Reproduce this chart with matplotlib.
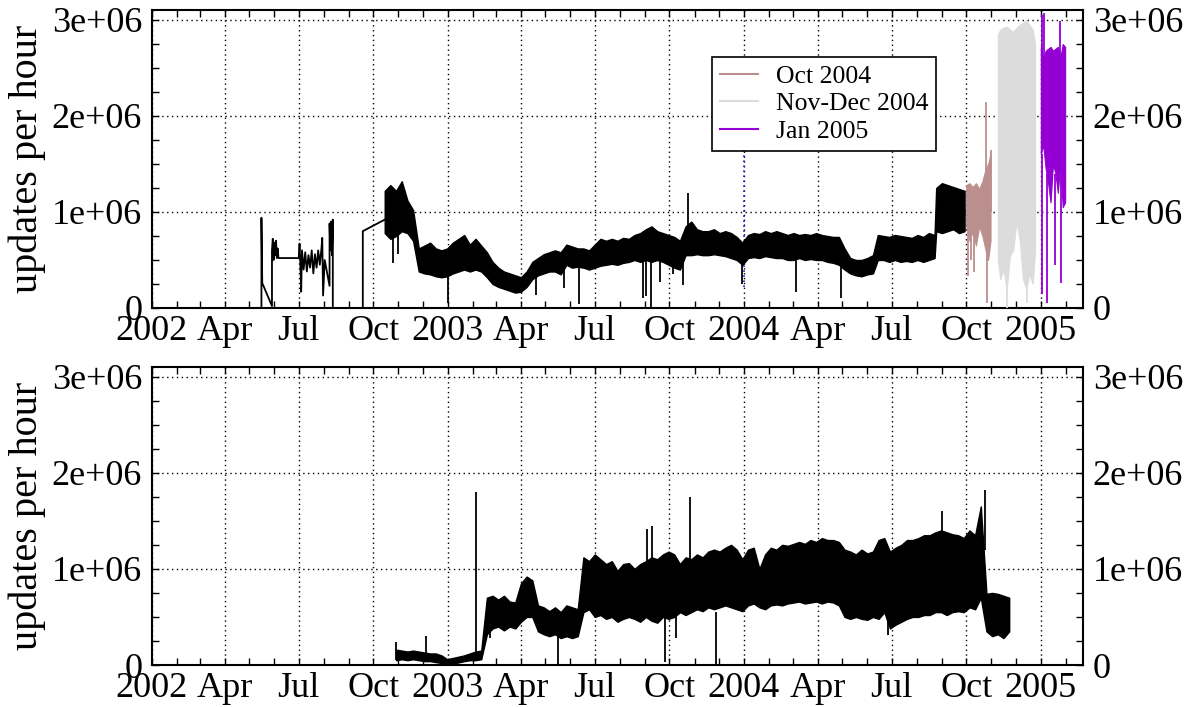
import matplotlib
matplotlib.use("Agg")
import matplotlib.pyplot as plt
import matplotlib.dates as mdates
from matplotlib.lines import Line2D
from matplotlib.ticker import MultipleLocator, FuncFormatter
import numpy as np
import pandas as pd

plt.rcParams["font.family"] = ["Liberation Serif", "DejaVu Serif"]

M = 1e6  # all values below are in millions of updates per hour

# ---------------- top panel ----------------
# sparse 2002 data, drawn as a plain line
early_dates = ["2002-05-16", "2002-05-16", "2002-05-17", "2002-05-29", "2002-05-29",
               "2002-05-30", "2002-05-31", "2002-06-01", "2002-06-02", "2002-06-03",
               "2002-06-04", "2002-06-05", "2002-06-06", "2002-07-01", "2002-07-02",
               "2002-07-03", "2002-07-04", "2002-07-05", "2002-07-07", "2002-07-09",
               "2002-07-11", "2002-07-13", "2002-07-15", "2002-07-17", "2002-07-19",
               "2002-07-21", "2002-07-23", "2002-07-25", "2002-07-27", "2002-07-29",
               "2002-07-30", "2002-07-31", "2002-08-02", "2002-08-08", "2002-08-08",
               "2002-08-09", "2002-08-10", "2002-08-11", "2002-08-12", "2002-08-12",
               "2002-09-18", "2002-09-18", "2002-10-15"]
early_vals = [0.0, 0.94, 0.26, 0.02, 0.60, 0.72, 0.50, 0.68, 0.55, 0.70,
              0.52, 0.62, 0.52, 0.52, 0.67, 0.45, 0.17, 0.60, 0.40, 0.58,
              0.38, 0.55, 0.42, 0.60, 0.36, 0.56, 0.42, 0.60, 0.45, 0.62,
              0.73, 0.13, 0.50, 0.23, 0.88, 0.60, 0.90, 0.55, 0.92, 0.0,
              0.0, 0.80, 0.92]

# weekly low / high envelope of the hourly series
top_seg1_start = "2002-10-15"
top_seg1_lo = [0.78, 0.72, 0.75, 0.80, 0.78, 0.70]
top_seg1_hi = [1.22, 1.28, 1.22, 1.32, 1.12, 1.02]

top_seg2_start = "2002-11-26"
top_seg2_lo = [0.38, 0.36, 0.35, 0.33, 0.32, 0.33,
               0.36, 0.38, 0.40, 0.38, 0.40, 0.38, 0.32,
               0.25, 0.22, 0.20, 0.18, 0.16, 0.17, 0.22,
               0.30, 0.34, 0.36, 0.38, 0.38, 0.35,
               0.45, 0.42, 0.43, 0.42, 0.40,
               0.42, 0.44, 0.45, 0.46, 0.45, 0.47, 0.48, 0.50, 0.48, 0.50, 0.48,
               0.50, 0.48, 0.45, 0.42, 0.40,
               0.55, 0.55, 0.56, 0.55, 0.55, 0.56, 0.55, 0.54, 0.52, 0.50, 0.45,
               0.52, 0.53, 0.52, 0.54, 0.53, 0.52, 0.52, 0.50, 0.50, 0.52, 0.50,
               0.51, 0.50, 0.50, 0.48, 0.47, 0.45,
               0.40, 0.36, 0.34, 0.33, 0.35, 0.36]
top_seg2_hi = [0.62, 0.65, 0.68, 0.62, 0.60, 0.62,
               0.68, 0.72, 0.76, 0.66, 0.72, 0.65, 0.58,
               0.48, 0.42, 0.38, 0.36, 0.34, 0.32, 0.38,
               0.48, 0.52, 0.56, 0.58, 0.60, 0.58,
               0.66, 0.64, 0.62, 0.62, 0.60,
               0.66, 0.72, 0.70, 0.72, 0.70, 0.73, 0.72, 0.76, 0.78, 0.82, 0.85,
               0.80, 0.78, 0.76, 0.74, 0.70,
               0.85, 0.90, 0.82, 0.80, 0.80, 0.82, 0.78, 0.80, 0.78, 0.74, 0.68,
               0.76, 0.78, 0.77, 0.80, 0.78, 0.80, 0.78, 0.76, 0.78, 0.76, 0.77,
               0.76, 0.78, 0.76, 0.75, 0.74, 0.74,
               0.62, 0.52, 0.50, 0.50, 0.52, 0.55]

top_seg3_start = "2004-06-14"
top_seg3_lo = [0.50, 0.50, 0.48, 0.50, 0.48, 0.49, 0.48, 0.50, 0.48, 0.50, 0.52]
top_seg3_hi = [0.76, 0.75, 0.74, 0.76, 0.75, 0.74, 0.73, 0.76, 0.74, 0.78, 0.76]

top_seg4_start = "2004-08-25"
top_seg4_lo = [0.80, 0.78, 0.80, 0.82, 0.78, 0.80]
top_seg4_hi = [1.25, 1.30, 1.28, 1.26, 1.24, 1.22]

top_spike_dates = ["2002-10-25", "2002-11-01", "2003-01-01", "2003-04-19", "2003-05-24",
                   "2003-06-11", "2003-08-30", "2003-09-02", "2003-09-08", "2003-09-19",
                   "2003-10-05", "2003-10-18", "2003-10-24", "2003-12-30", "2004-03-05",
                   "2004-04-30"]
top_spike_lo = [0.47, 0.56, 0.05, 0.13, 0.21, 0.04, 0.10, 0.12, 0.00, 0.27,
                0.35, 0.24, 0.70, 0.25, 0.17, 0.10]
top_spike_hi = [0.90, 0.90, 0.45, 0.40, 0.45, 0.50, 0.50, 0.50, 0.50, 0.55,
                0.55, 0.50, 1.20, 0.55, 0.55, 0.50]

oct_dates = ["2004-10-01", "2004-10-05", "2004-10-09", "2004-10-13", "2004-10-17",
             "2004-10-21", "2004-10-25", "2004-10-28", "2004-10-31"]
oct_lo = [0.85, 0.70, 0.80, 0.65, 0.85, 0.75, 0.60, 0.50, 0.70]
oct_hi = [1.28, 1.30, 1.26, 1.30, 1.24, 1.32, 1.45, 1.50, 1.60]
oct_spike_dates = ["2004-10-03", "2004-10-07", "2004-10-11", "2004-10-25", "2004-10-27", "2004-10-31"]
oct_spike_lo = [0.33, 0.50, 0.37, 1.20, 0.05, 1.00]
oct_spike_hi = [1.00, 0.90, 1.00, 2.15, 0.90, 1.65]

nd_dates = ["2004-11-09", "2004-11-12", "2004-11-16", "2004-11-20", "2004-11-24",
            "2004-11-28", "2004-12-02", "2004-12-06", "2004-12-10", "2004-12-14",
            "2004-12-18", "2004-12-22", "2004-12-25"]
nd_lo = [0.50, 0.30, 0.40, 0.20, 0.55, 0.60, 0.90, 0.70, 0.30, 0.20, 0.35, 0.25, 0.60]
nd_hi = [2.85, 2.90, 2.92, 2.93, 2.90, 2.88, 2.92, 2.95, 2.97, 3.00, 2.95, 2.90, 2.75]
nd_spike_dates = ["2004-11-20", "2004-12-15"]
nd_spike_lo = [0.0, 0.05]
nd_spike_hi = [1.0, 1.0]

jan_dates = ["2005-01-01", "2005-01-04", "2005-01-07", "2005-01-10", "2005-01-13",
             "2005-01-16", "2005-01-19", "2005-01-22", "2005-01-25", "2005-01-28",
             "2005-01-31"]
jan_lo = [1.60, 1.70, 1.45, 1.30, 1.10, 1.50, 1.40, 1.20, 1.50, 1.05, 1.10]
jan_hi = [2.72, 2.60, 2.68, 2.70, 2.72, 2.68, 2.70, 2.72, 2.60, 2.75, 2.72]
jan_spike_dates = ["2005-01-02", "2005-01-03", "2005-01-05", "2005-01-09", "2005-01-18",
                   "2005-01-25", "2005-01-26"]
jan_spike_lo = [0.15, 2.00, 2.00, 0.05, 0.45, 2.50, 0.26]
jan_spike_hi = [1.60, 3.05, 3.07, 1.40, 1.40, 2.99, 1.40]

marker_date = "2004-01-01"
marker_lo, marker_hi = 0.22, 1.70

# ---------------- bottom panel ----------------
bot_seg1_start = "2002-10-29"
bot_seg1_lo = [0.05, 0.06, 0.05, 0.06, 0.05, 0.04, 0.04, 0.03, 0.02, 0.00]
bot_seg1_hi = [0.16, 0.15, 0.14, 0.15, 0.14, 0.13, 0.12, 0.12, 0.10, 0.06]

bot_seg2_start = "2003-01-21"
bot_seg2_lo = [0.04, 0.05, 0.05, 0.06]
bot_seg2_hi = [0.10, 0.12, 0.14, 0.15]

bot_seg3_start = "2003-02-18"
bot_seg3_lo = [0.32, 0.38, 0.40, 0.36, 0.40, 0.38,
               0.45, 0.50, 0.50,
               0.35, 0.32, 0.30, 0.32, 0.28, 0.30, 0.28, 0.30,
               0.55, 0.58, 0.50, 0.52, 0.48, 0.50, 0.45, 0.48, 0.50,
               0.48, 0.45, 0.50, 0.46, 0.44, 0.50, 0.48,
               0.50, 0.55, 0.52, 0.55, 0.58, 0.56, 0.60, 0.58, 0.60, 0.62, 0.60, 0.58, 0.56,
               0.62, 0.64, 0.60, 0.58, 0.62, 0.63, 0.62, 0.64, 0.65, 0.66, 0.64, 0.65,
               0.66, 0.64, 0.66, 0.65,
               0.62, 0.50, 0.48, 0.50, 0.48, 0.47, 0.50, 0.48, 0.55,
               0.38, 0.42, 0.45, 0.48, 0.50, 0.50, 0.52, 0.52, 0.55, 0.55, 0.52, 0.55,
               0.56, 0.55,
               0.60, 0.58, 0.70]
bot_seg3_hi = [0.70, 0.72, 0.68, 0.72, 0.66, 0.65,
               0.85, 0.92, 0.88,
               0.62, 0.60, 0.56, 0.60, 0.55, 0.62, 0.60, 0.58,
               1.12, 1.08, 1.15, 1.10, 1.05, 1.08, 0.98, 1.05, 1.06,
               1.00, 1.05, 1.08, 1.12, 1.10, 1.15, 1.18,
               1.15, 1.05, 1.12, 1.10, 1.15, 1.12, 1.18, 1.20, 1.18, 1.22, 1.25, 1.20, 1.10,
               1.20, 1.22, 1.00, 1.15, 1.22, 1.20, 1.25, 1.24, 1.26, 1.28, 1.26, 1.30,
               1.28, 1.32, 1.30, 1.30,
               1.28, 1.20, 1.18, 1.15, 1.20, 1.16, 1.18, 1.30, 1.32,
               1.18, 1.22, 1.25, 1.30, 1.30, 1.32, 1.35, 1.35, 1.38, 1.40, 1.38, 1.36,
               1.35, 1.32,
               1.40, 1.35, 1.65]

bot_seg4_start = "2004-10-26"
bot_seg4_lo = [0.35, 0.30, 0.32, 0.28, 0.35]
bot_seg4_hi = [0.74, 0.75, 0.74, 0.72, 0.70]

bot_spike_dates = ["2002-10-29", "2002-12-05", "2003-02-04", "2003-02-22", "2003-05-17",
                   "2003-09-03", "2003-09-09", "2003-09-26", "2003-10-09", "2003-10-27",
                   "2003-11-28", "2004-06-26", "2004-09-01", "2004-10-24"]
bot_spike_lo = [0.05, 0.10, 0.10, 0.28, 0.00, 0.90, 0.90, 0.03, 0.28, 0.90,
                0.00, 0.31, 1.00, 1.20]
bot_spike_hi = [0.24, 0.30, 1.80, 0.50, 0.35, 1.42, 1.45, 0.50, 0.55, 1.75,
                0.55, 0.60, 1.60, 1.82]


def weekly_band(segments):
    dates = None
    lo, hi = [], []
    for start, seg_lo, seg_hi in segments:
        d = pd.date_range(start, periods=len(seg_lo), freq="7D")
        dates = d if dates is None else dates.append(d)
        lo += seg_lo
        hi += seg_hi
    return dates, np.array(lo) * M, np.array(hi) * M


def draw_band(ax, dates, lo, hi, color):
    ax.fill_between(pd.to_datetime(dates), np.array(lo) * M, np.array(hi) * M,
                    color=color, lw=0.8, zorder=3)


def draw_spikes(ax, dates, lo, hi, color):
    ax.vlines(pd.to_datetime(dates), np.array(lo) * M, np.array(hi) * M,
              color=color, lw=1.3, zorder=3)


def fmt_y(v, pos):
    return "0" if v == 0 else f"{v / M:.0f}e+06"


def fmt_x(v, pos):
    d = mdates.num2date(v)
    return str(d.year) if d.month == 1 else d.strftime("%b")


def style_axes(ax):
    ax.set_xlim(pd.Timestamp("2002-01-01"), pd.Timestamp("2005-02-22"))
    ax.set_ylim(0, 3.1 * M)
    ax.xaxis.set_major_locator(mdates.MonthLocator(bymonth=[1, 4, 7, 10]))
    ax.xaxis.set_minor_locator(mdates.MonthLocator())
    ax.xaxis.set_major_formatter(FuncFormatter(fmt_x))
    ax.yaxis.set_major_locator(MultipleLocator(1 * M))
    ax.yaxis.set_minor_locator(MultipleLocator(0.25 * M))
    ax.yaxis.set_major_formatter(FuncFormatter(fmt_y))
    ax.tick_params(which="both", direction="in", top=True, right=True,
                   labelright=True, length=5, width=1.0, labelsize=26)
    ax.tick_params(axis="y", pad=7)
    ax.tick_params(axis="x", pad=5)
    ax.grid(True, which="major", color="black", lw=1.0, linestyle=(0, (1, 2.5)))
    ax.set_axisbelow(True)
    for s in ax.spines.values():
        s.set_linewidth(1.5)
    ax.set_ylabel("updates per hour", fontsize=29, labelpad=4)


fig = plt.figure(figsize=(11.88, 7.07), dpi=100)
ax1 = fig.add_axes([0.1279, 0.5644, 0.7837, 0.4209])
ax2 = fig.add_axes([0.1279, 0.0594, 0.7837, 0.4215])

# top
ax1.plot(pd.to_datetime(early_dates), np.array(early_vals) * M, color="black", lw=1.3, zorder=3)
top_dates, top_lo, top_hi = weekly_band([
    (top_seg1_start, top_seg1_lo, top_seg1_hi),
    (top_seg2_start, top_seg2_lo, top_seg2_hi),
    (top_seg3_start, top_seg3_lo, top_seg3_hi),
    (top_seg4_start, top_seg4_lo, top_seg4_hi),
])
ax1.fill_between(top_dates, top_lo, top_hi, color="black", lw=1.0, zorder=3)
draw_spikes(ax1, top_spike_dates, top_spike_lo, top_spike_hi, "black")

ax1.vlines(pd.Timestamp(marker_date), marker_lo * M, marker_hi * M, color="#2020d0",
           lw=1.2, linestyle=(0, (1, 2)), zorder=2)

oct_c, nd_c, jan_c = "#bc8f8f", "#dcdcdc", "#9400d3"
draw_band(ax1, oct_dates, oct_lo, oct_hi, oct_c)
draw_spikes(ax1, oct_spike_dates, oct_spike_lo, oct_spike_hi, oct_c)
draw_band(ax1, nd_dates, nd_lo, nd_hi, nd_c)
draw_spikes(ax1, nd_spike_dates, nd_spike_lo, nd_spike_hi, nd_c)
draw_band(ax1, jan_dates, jan_lo, jan_hi, jan_c)
draw_spikes(ax1, jan_spike_dates, jan_spike_lo, jan_spike_hi, jan_c)

handles = [Line2D([], [], color=oct_c, lw=1.5),
           Line2D([], [], color=nd_c, lw=1.5),
           Line2D([], [], color=jan_c, lw=1.5)]
leg = ax1.legend(handles, ["Oct 2004", "Nov-Dec 2004", "Jan 2005"],
                 loc="upper left", bbox_to_anchor=(0.6015, 0.8434),
                 fontsize=18.5, frameon=True, fancybox=False, framealpha=1,
                 edgecolor="black", borderpad=0.3, labelspacing=0.18,
                 handlelength=1.5, handletextpad=0.7, borderaxespad=0)
leg.get_frame().set_linewidth(1.2)
leg.set_zorder(10)
style_axes(ax1)

# bottom
bot_dates, bot_lo, bot_hi = weekly_band([
    (bot_seg1_start, bot_seg1_lo, bot_seg1_hi),
    (bot_seg2_start, bot_seg2_lo, bot_seg2_hi),
    (bot_seg3_start, bot_seg3_lo, bot_seg3_hi),
    (bot_seg4_start, bot_seg4_lo, bot_seg4_hi),
])
ax2.fill_between(bot_dates, bot_lo, bot_hi, color="black", lw=1.0, zorder=3)
draw_spikes(ax2, bot_spike_dates, bot_spike_lo, bot_spike_hi, "black")
style_axes(ax2)

fig.savefig("out.png", dpi=100)
plt.close(fig)
